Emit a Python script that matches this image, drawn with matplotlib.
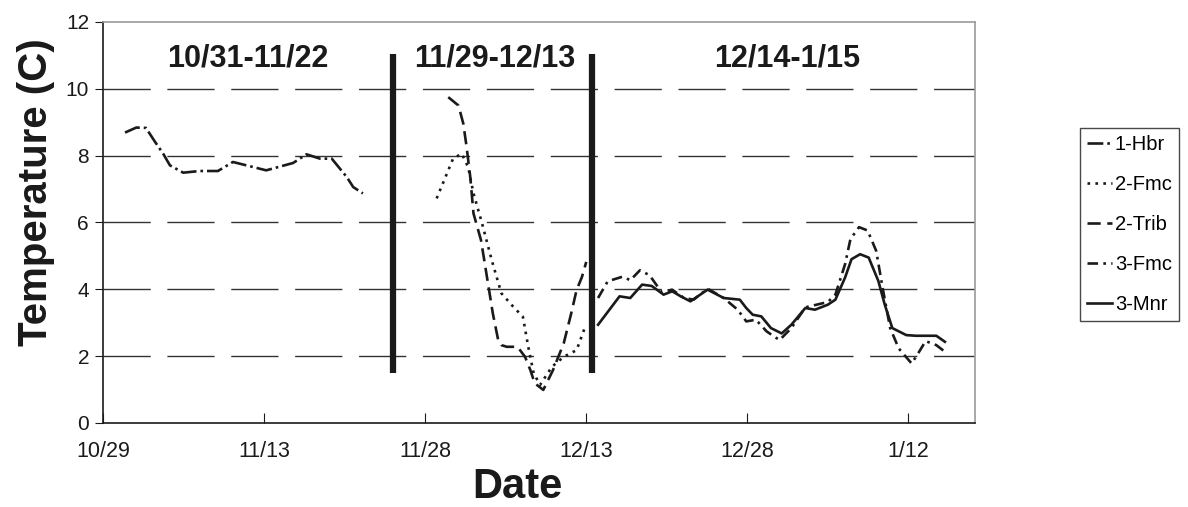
import matplotlib
matplotlib.use("Agg")
import matplotlib.pyplot as plt

plt.rcParams['font.family'] = ['Liberation Sans', 'DejaVu Sans']

# x values are days after 10/29
tick_days = [0, 15, 30, 45, 60, 75]
tick_labels = ['10/29', '11/13', '11/28', '12/13', '12/28', '1/12']

hbr1_day = [2.05, 3.1, 4.0, 4.85, 5.6, 6.23, 7.47, 9.0, 10.7, 12.1, 15.2, 17.7,
            18.95, 20.2, 21.3, 22.7, 23.3, 24.2]
hbr1_temp = [8.69, 8.84, 8.83, 8.41, 8.06, 7.71, 7.49, 7.54, 7.54, 7.81, 7.56, 7.78,
             8.04, 7.91, 7.91, 7.36, 7.06, 6.87]

fmc2_day = [31.07, 32.6, 33.4, 34.0, 34.5, 35.3, 36.2, 37.1, 38.2, 39.1, 39.6, 40.1,
            40.7, 41.8, 42.9, 44.1, 44.9]
fmc2_temp = [6.72, 7.91, 8.06, 7.66, 6.87, 5.97, 4.87, 3.88, 3.48, 3.18, 2.28, 1.49,
             1.14, 1.68, 1.98, 2.18, 2.88]

trib2_day = [32.15, 33.1, 33.55, 33.86, 34.2, 34.5, 35.2, 35.9, 36.3, 36.8, 37.1, 37.6,
             38.6, 39.3, 39.8, 40.2, 41.0, 41.9, 42.9, 43.6, 44.1, 44.6, 45.0]
trib2_temp = [9.75, 9.5, 8.96, 8.26, 7.36, 6.27, 5.47, 4.08, 3.28, 2.48, 2.33, 2.28,
              2.28, 1.98, 1.58, 1.19, 0.99, 1.58, 2.38, 3.28, 3.98, 4.37, 4.82]

fmc3_day = [46.1, 47.0, 48.4, 49.1, 50.0, 50.9, 52.0, 53.0, 54.1, 55.0, 56.3, 57.8,
            59.1, 59.9, 60.8, 61.8, 63.0, 64.1, 65.4, 67.5, 68.2, 69.1, 69.6, 70.4,
            71.2, 72.0, 72.6, 73.3, 74.1, 75.3, 75.9, 76.6, 77.6, 78.4]
fmc3_temp = [3.74, 4.24, 4.38, 4.27, 4.57, 4.42, 3.92, 3.99, 3.74, 3.69, 4.02, 3.74,
             3.39, 3.04, 3.09, 2.74, 2.48, 2.84, 3.46, 3.62, 3.84, 4.75, 5.50, 5.86,
             5.76, 5.15, 4.04, 2.84, 2.23, 1.78, 2.08, 2.45, 2.33, 2.13]

mnr3_day = [46.1, 48.1, 49.1, 50.2, 51.1, 52.2, 53.0, 53.8, 54.7, 56.3, 57.8, 59.3,
            59.9, 60.5, 61.3, 62.2, 63.2, 64.1, 65.4, 66.3, 67.5, 68.2, 69.1, 69.7,
            70.5, 71.3, 72.2, 72.8, 73.5, 74.8, 75.7, 77.6, 78.4]
mnr3_temp = [2.94, 3.79, 3.74, 4.14, 4.10, 3.84, 3.94, 3.79, 3.64, 3.99, 3.74, 3.69,
             3.44, 3.24, 3.19, 2.84, 2.68, 2.94, 3.44, 3.39, 3.54, 3.69, 4.35, 4.90,
             5.05, 4.95, 4.25, 3.54, 2.84, 2.63, 2.61, 2.61, 2.43]

divider_days = [27, 45.5]
period_labels = ['10/31-11/22', '11/29-12/13', '12/14-1/15']
period_label_days = [13.5, 36.5, 63.7]

ink = '#1a1a1a'
fig = plt.figure(figsize=(11.88, 5.07), dpi=100)
ax = fig.add_axes([0.0867, 0.1657, 0.734, 0.791])

lw = 1.9
ax.plot(hbr1_day, hbr1_temp, color=ink, lw=lw, dashes=(6, 1.5, 1, 1.5), label='1-Hbr')
ax.plot(fmc2_day, fmc2_temp, color=ink, lw=lw, dashes=(1, 2), label='2-Fmc')
ax.plot(trib2_day, trib2_temp, color=ink, lw=lw, dashes=(5, 2.5), label='2-Trib')
ax.plot(fmc3_day, fmc3_temp, color=ink, lw=lw, dashes=(4, 2, 1, 2), label='3-Fmc')
ax.plot(mnr3_day, mnr3_temp, color=ink, lw=lw, label='3-Mnr')

for d in divider_days:
    ax.plot([d, d], [1.5, 11.05], color=ink, lw=4.5, solid_capstyle='butt')

for d, txt in zip(period_label_days, period_labels):
    ax.text(d, 10.9, txt, ha='center', va='center', fontsize=22, fontweight='bold', color=ink)

ax.set_xlim(0, 81.2)
ax.set_ylim(0, 12)
ax.set_yticks(range(0, 13, 2))
ax.set_xticks(tick_days)
ax.set_xticklabels(tick_labels)
ax.tick_params(axis='y', direction='out', length=6, labelsize=15, colors=ink, pad=4)
ax.tick_params(axis='x', direction='in', length=7, labelsize=15.5, colors=ink, pad=13)

for y in range(2, 12, 2):
    ax.axhline(y, color='#333333', lw=1.0, dashes=(34, 12), zorder=0)

ax.spines['left'].set_color(ink)
ax.spines['bottom'].set_color(ink)
ax.spines['top'].set_color('#999999')
ax.spines['right'].set_color('#999999')
for s in ax.spines.values():
    s.set_linewidth(1.2)

ax.set_xlabel('Date', fontsize=30, fontweight='bold', color=ink)
ax.xaxis.set_label_coords(0.475, -0.16)
ax.xaxis.label.set_va('center')
ax.set_ylabel('Temperature (C)', fontsize=29, fontweight='bold', color=ink)
ax.yaxis.set_label_coords(-0.055, 0.576)

leg = ax.legend(loc='center left', bbox_to_anchor=(1.12, 0.495), frameon=True, fancybox=False,
                fontsize=14.5, handlelength=1.25, handletextpad=0.15, labelspacing=1.05,
                borderpad=0.35, borderaxespad=0)
leg.get_frame().set_edgecolor(ink)
leg.get_frame().set_linewidth(1.0)

fig.savefig('out.png', dpi=100)
